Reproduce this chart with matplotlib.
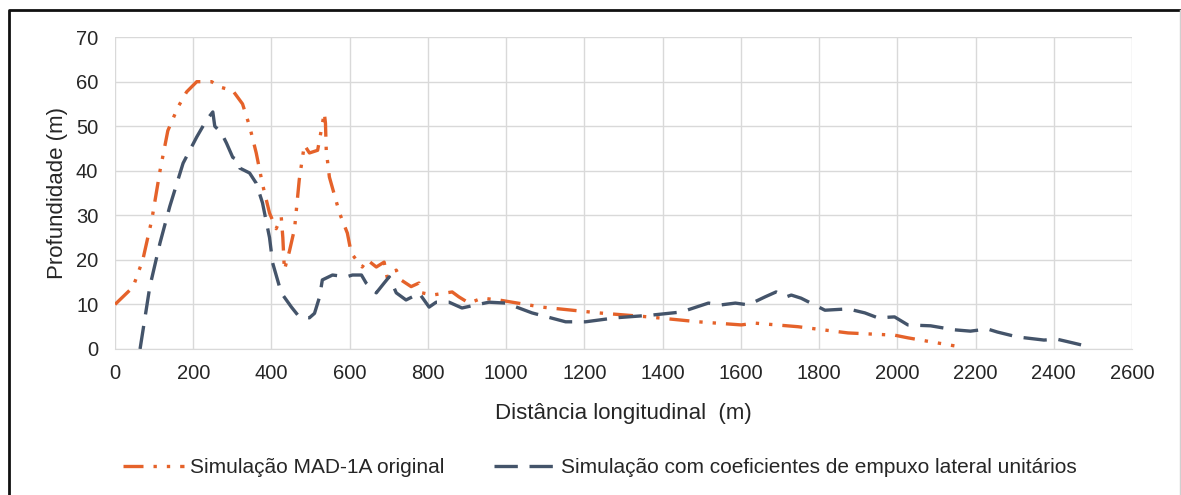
import matplotlib.pyplot as plt
from matplotlib.lines import Line2D

plt.rcParams['font.family'] = ['Liberation Sans', 'DejaVu Sans']

# simulated depth along the channel (m)
x_orig = [0, 46, 71, 94, 115, 135, 161, 183, 209, 247, 268, 301, 326, 344, 361, 377, 395,
          412, 425, 429, 433, 446, 459, 471, 484, 497, 518, 527, 535, 538, 540, 548, 574,
          594, 604, 617, 632, 645, 668, 688, 696, 719, 731, 757, 777, 785, 811, 862, 879,
          905, 938, 981, 1091, 1236, 1364, 1491, 1601, 1636, 1746, 1874, 1993, 2027, 2146]
y_orig = [10, 13.9, 20, 29, 40, 49, 54.3, 57.7, 60, 60, 58.8, 58, 55, 50, 44, 37, 30.5,
          27, 29.6, 25, 17.7, 22, 27, 38, 45.8, 44, 44.6, 49, 53, 50.7, 44.6, 38.6, 30.5,
          26, 21.5, 20, 18.4, 20, 18.4, 19.5, 16, 17.7, 15.5, 14, 14.8, 12.6, 12.1, 12.8, 11.7,
          10.3, 11.4, 11, 9.4, 8.1, 7.2, 6.1, 5.4, 5.8, 5, 3.6, 3.1, 2.5, 0.7]

x_unit = [64, 89, 115, 140, 174, 209, 234, 250, 255, 272, 285, 301, 314, 319, 344, 361, 377,
          395, 403, 425, 451, 471, 497, 510, 523, 530, 556, 592, 607, 630, 642, 668, 688,
          701, 719, 744, 760, 777, 803, 821, 854, 887, 923, 956, 999, 1066, 1152, 1203, 1280,
          1372, 1448, 1517, 1550, 1586, 1619, 1662, 1690, 1716, 1729, 1754, 1779, 1815, 1874,
          1917, 1950, 1993, 2027, 2085, 2146, 2187, 2230, 2256, 2307, 2375, 2408, 2452, 2490]
y_unit = [0, 14, 23.8, 32, 41.7, 47.6, 51.4, 53.2, 50, 48.5, 46.2, 43, 42.4, 40.6, 39.5, 37.2, 32.8,
          25, 19.3, 12.6, 9.4, 7.2, 7, 8, 11.7, 15.5, 16.6, 16.2, 16.6, 16.6, 14.8, 12.6, 14.8,
          16.2, 12.6, 11, 11.7, 12.6, 9.4, 10.5, 10.5, 9.2, 9.9, 10.5, 10.3, 8.1, 6.1, 6.1, 7,
          7.6, 8.3, 10.3, 9.9, 10.3, 9.9, 11.7, 12.8, 11.7, 12.1, 11.4, 10.3, 8.7, 9,
          8.1, 7, 7.2, 5.4, 5.2, 4.3, 4, 4.5, 3.8, 2.7, 2, 2.2, 1.3, 0.5]

txt = '#262626'

fig = plt.figure(figsize=(11.81, 4.95), dpi=100)
ax = fig.add_axes([0.0974, 0.295, 0.8611, 0.63])

ax.plot(x_orig, y_orig, color='#E5622A', lw=2.4, dashes=[6, 3, 1, 3, 1, 3],
        label='Simulação MAD-1A original')
ax.plot(x_unit, y_unit, color='#44546A', lw=2.4, dashes=[7, 3.5],
        label='Simulação com coeficientes de empuxo lateral unitários')

ax.set_xlim(0, 2600)
ax.set_ylim(0, 70)
ax.set_xticks(range(0, 2601, 200))
ax.set_yticks(range(0, 71, 10))
ax.grid(True, color='#D9D9D9', lw=1)
ax.set_axisbelow(True)
for s in ['top', 'right', 'left']:
    ax.spines[s].set_visible(False)
ax.spines['bottom'].set_color('#D9D9D9')
ax.tick_params(axis='x', length=0, labelsize=14.5, colors=txt, pad=11)
ax.tick_params(axis='y', length=0, labelsize=14.5, colors=txt, pad=12)
ax.set_xlabel('Distância longitudinal  (m)', fontsize=16, color=txt, labelpad=14)
ax.set_ylabel('Profundidade (m)', fontsize=16, color=txt, labelpad=6)

ax.legend(loc='upper center', bbox_to_anchor=(0.477, -0.29), ncol=2, frameon=False,
          fontsize=15, handlelength=2.9, handletextpad=0.3, columnspacing=2.4,
          labelcolor=txt)

# frame around the figure
fig.lines.append(Line2D([0.0076, 0.0076, 0.999], [0.0, 0.979, 0.979],
                        transform=fig.transFigure, color='#111111', lw=2))
fig.lines.append(Line2D([0.9992, 0.9992], [0.0, 0.979],
                        transform=fig.transFigure, color='#D0D0D0', lw=1))

fig.savefig('out.png', dpi=100)
